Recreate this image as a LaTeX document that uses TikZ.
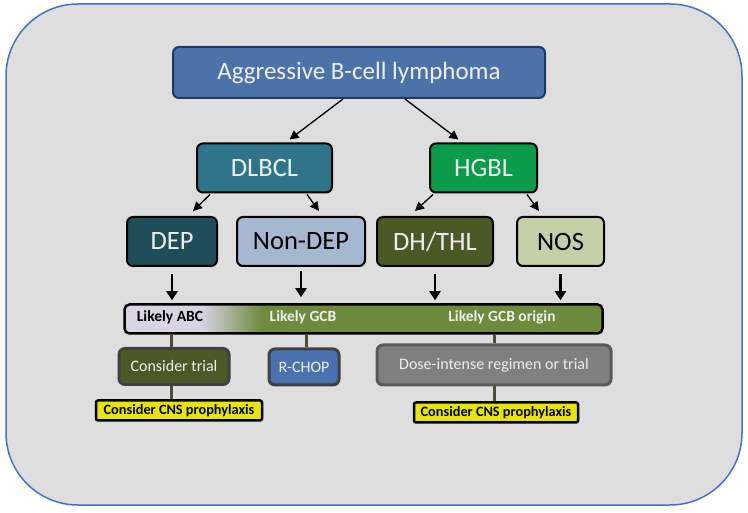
\documentclass[tikz,border=0pt]{standalone}
\usepackage{fontspec}
\setmainfont{Carlito}
\usetikzlibrary{positioning,arrows.meta,calc}
\usepackage{xcolor}

\definecolor{panelgray}{RGB}{222,222,222}
\definecolor{panelblue}{RGB}{68,114,196}
\definecolor{lighttext}{RGB}{238,238,238}
\definecolor{topfill}{RGB}{76,114,170}
\definecolor{topdraw}{RGB}{31,56,100}
\definecolor{dlbclfill}{RGB}{46,117,138}
\definecolor{hgblfill}{RGB}{10,155,75}
\definecolor{depfill}{RGB}{30,78,90}
\definecolor{nondepfill}{RGB}{166,184,208}
\definecolor{dhfill}{RGB}{73,90,38}
\definecolor{nosfill}{RGB}{195,208,166}
\definecolor{barLav}{RGB}{216,212,228}
\definecolor{barOlive}{RGB}{110,138,61}
\definecolor{connbrown}{RGB}{78,76,52}
\definecolor{trialfill}{RGB}{74,90,38}
\definecolor{rchopfill}{RGB}{74,114,176}
\definecolor{dosefill}{RGB}{128,128,128}
\definecolor{cnsyellow}{RGB}{230,230,0}

\pgfdeclarehorizontalshading{likelybar}{100bp}{color(0bp)=(barLav); color(33bp)=(barLav); color(39.4bp)=(barOlive); color(100bp)=(barOlive)}

\begin{document}
\begin{tikzpicture}[
    x=1pt, y=-1pt,
    panel/.style={draw=panelblue, line width=1.5pt, fill=panelgray, rounded corners=72pt},
    box/.style={rectangle, draw=black, line width=2pt, rounded corners=6pt, text=lighttext, font=\fontsize{26.5}{30}\selectfont, minimum height=49pt, inner sep=0pt},
    topbox/.style={box, draw=topdraw, fill=topfill, font=\fontsize{25}{30}\selectfont, minimum height=51pt, minimum width=372pt},
    bar/.style={rectangle, draw=black, line width=2.5pt, rounded corners=5pt, shading=likelybar, minimum height=29pt, minimum width=478pt, inner sep=0pt},
    barlabel/.style={font=\bfseries\fontsize{15.5}{18}\selectfont},
    therapy/.style={rectangle, draw=black!75, line width=3pt, rounded corners=6pt, text=lighttext, font=\fontsize{16}{19}\selectfont, minimum height=36pt, inner sep=0pt},
    cns/.style={rectangle, draw=black, line width=2.5pt, rounded corners=2pt, fill=cnsyellow, font=\bfseries\fontsize{14.3}{16}\selectfont, minimum height=20pt, inner sep=0pt},
    arr/.style={draw, line width=1.3pt, -{Triangle[length=9pt, width=9pt]}},
    varr/.style={draw, line width=2.2pt, -{Triangle[length=9pt, width=11pt]}},
    conn/.style={draw=connbrown, line width=3pt}
  ]
  \useasboundingbox (0,0) rectangle (748,513);
  \draw[panel] (6,4) rectangle (742,505);

  % Top level
  \node (top) [topbox] at (359,72.5) {Aggressive B-cell lymphoma};

  % Entities
  \node (dlbcl) [box, fill=dlbclfill, minimum width=135pt] at (264.5,168) {DLBCL};
  \node (hgbl) [box, fill=hgblfill, minimum width=107pt] at (483.5,168) {HGBL};

  % Subgroups
  \node (dep) [box, fill=depfill, minimum width=90pt] at (172,241.5) {DEP};
  \node (nondep) [box, fill=nondepfill, text=black, minimum width=128pt] at (301,241.5) {Non-DEP};
  \node (dhthl) [box, fill=dhfill, minimum width=116pt] at (435,241.5) {DH/THL};
  \node (nos) [box, fill=nosfill, text=black, minimum width=87pt] at (560.5,241.5) {NOS};

  % Cell of origin bar
  \node (bar) [bar] at (363.5,319) {};
  \node (abc) [barlabel, text=black] at (170,317.5) {Likely ABC};
  \node (gcb) [barlabel, text=lighttext] at (303,317.5) {Likely GCB};
  \node (gcborigin) [barlabel, text=lighttext] at (502,317.5) {Likely GCB origin};

  % Therapy
  \node (trial) [therapy, fill=trialfill, minimum width=110pt] at (174,366.5) {Consider trial};
  \node (rchop) [therapy, fill=rchopfill, minimum width=70pt] at (304,367) {R-CHOP};
  \node (dose) [therapy, fill=dosefill, draw=black!65, minimum width=234pt, minimum height=40pt] at (494,365) {Dose-intense regimen or trial};

  \node (cnsleft) [cns, minimum width=166pt] at (179,410.5) {Consider CNS prophylaxis};
  \node (cnsright) [cns, minimum width=164pt] at (496,412.5) {Consider CNS prophylaxis};

  % Arrows
  \path [arr] ([xshift=-16pt]top.south) -- ([xshift=25pt, yshift=3pt]dlbcl.north);
  \path [arr] ([xshift=46pt]top.south) -- ([xshift=-25pt, yshift=3pt]hgbl.north);
  \path [arr] ([xshift=-54.5pt, yshift=-1pt]dlbcl.south) -- ([xshift=21pt, yshift=5pt]dep.north);
  \path [arr] ([xshift=42.5pt, yshift=-1pt]dlbcl.south) -- ([xshift=18pt, yshift=5pt]nondep.north);
  \path [arr] ([xshift=-50.5pt, yshift=-1pt]hgbl.south) -- ([xshift=-20pt, yshift=5pt]dhthl.north);
  \path [arr] ([xshift=43.5pt, yshift=-1pt]hgbl.south) -- ([xshift=-21.5pt, yshift=5pt]nos.north);

  \path [varr, shorten <=7pt, shorten >=3pt] (dep) -- (dep |- bar.north);
  \path [varr, shorten <=4pt, shorten >=6pt] (nondep) -- (nondep |- bar.north);
  \path [varr, shorten <=7pt, shorten >=3pt] (dhthl) -- (dhthl |- bar.north);
  \path [varr, shorten <=7pt, shorten >=3pt] (nos) -- (nos |- bar.north);

  % Connectors
  \path [conn] ([xshift=-3pt]trial.north) -- ([xshift=-3pt]trial.north |- bar.south);
  \path [conn] ([xshift=2pt]rchop.north) -- ([xshift=2pt]rchop.north |- bar.south);
  \path [conn] (dose.north) -- (dose.north |- bar.south);
  \path [conn] ([xshift=-3pt]trial.south) -- ([xshift=-3pt]trial.south |- cnsleft.north);
  \path [conn] (dose.south) -- (dose.south |- cnsright.north);
\end{tikzpicture}
\end{document}
